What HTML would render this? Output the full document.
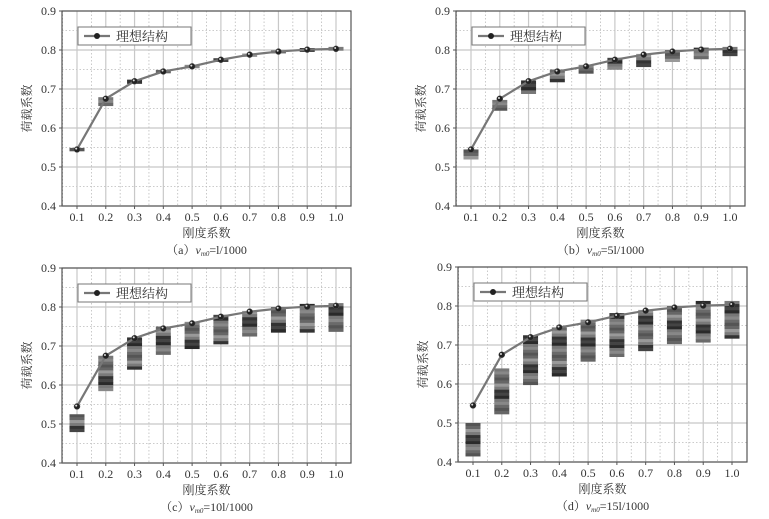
<!DOCTYPE html>
<html><head><meta charset="utf-8"><style>
body{margin:0;background:#fff}
svg{display:block;font-family:"Liberation Serif","Noto Serif CJK SC",serif}
</style></head><body>
<svg id="c" width="769" height="519"></svg>
<script>
const categories=[0.1,0.2,0.3,0.4,0.5,0.6,0.7,0.8,0.9,1.0];
const xTickLabels=["0.1","0.2","0.3","0.4","0.5","0.6","0.7","0.8","0.9","1.0"];
const yTickLabels=["0.4","0.5","0.6","0.7","0.8","0.9"];
const idealValues=[0.545,0.675,0.72,0.745,0.758,0.775,0.788,0.796,0.801,0.803];
const lowA=[0.541,0.657,0.714,0.741,0.754,0.770,0.783,0.792,0.796,0.799];
const highA=[0.549,0.679,0.724,0.749,0.762,0.779,0.791,0.799,0.805,0.808];
const lowB=[0.520,0.645,0.688,0.718,0.740,0.750,0.757,0.770,0.777,0.785];
const highB=[0.545,0.672,0.722,0.750,0.762,0.780,0.790,0.800,0.806,0.808];
const lowC=[0.480,0.585,0.640,0.678,0.693,0.705,0.725,0.735,0.735,0.737];
const highC=[0.525,0.675,0.722,0.750,0.762,0.780,0.790,0.800,0.808,0.810];
const lowD=[0.415,0.523,0.598,0.620,0.658,0.670,0.685,0.703,0.707,0.717];
const highD=[0.500,0.640,0.725,0.745,0.765,0.782,0.790,0.800,0.813,0.813];
const panels=[
 {id:"a",left:62,top:11,lo:lowA,hi:highA,cap:["（a）","","=l/1000"]},
 {id:"b",left:456,top:11,lo:lowB,hi:highB,cap:["（b）","","=5l/1000"]},
 {id:"c",left:62,top:268,lo:lowC,hi:highC,cap:["（c）","","=10l/1000"]},
 {id:"d",left:458,top:267,lo:lowD,hi:highD,cap:["（d）","","=15l/1000"]}];
const NS="http://www.w3.org/2000/svg";
const svg=document.getElementById("c");
function mk(t,a,p){const e=document.createElementNS(NS,t);for(const k in a)e.setAttribute(k,a[k]);(p||svg).appendChild(e);return e;}
const grays=["#555","#777","#333","#666","#888","#444","#999","#6a6a6a","#2a2a2a","#7a7a7a"];
panels.forEach(P=>{
 const W=289,H=195;
 const g=mk("g",{});
 
 
 const x=v=>P.left+15+(v-0.1)/0.9*259;
 const y=v=>P.top+H-(v-0.4)/0.5*H;
 for(let i=0;i<=10;i++){const v=0.4+i*0.05;if(i%2)mk("line",{x1:P.left,x2:P.left+W,y1:y(v),y2:y(v),stroke:"#bbb","stroke-dasharray":"1.5,2","stroke-width":0.8},g);else mk("line",{x1:P.left,x2:P.left+W,y1:y(v),y2:y(v),stroke:"#c8c8c8","stroke-width":1.2},g);}
 categories.forEach((c,i)=>{mk("line",{x1:x(c),x2:x(c),y1:P.top,y2:P.top+H,stroke:"#c8c8c8","stroke-width":1.2},g);
   const m=c+0.05;if(i<9)mk("line",{x1:x(m),x2:x(m),y1:P.top,y2:P.top+H,stroke:"#bbb","stroke-dasharray":"1.5,2","stroke-width":0.8},g);});
 mk("line",{x1:x(0.05),x2:x(0.05),y1:P.top,y2:P.top+H,stroke:"#bbb","stroke-dasharray":"1.5,2","stroke-width":0.8},g);
 categories.forEach((c,i)=>{
  const y1=y(P.hi[i]),y2=y(P.lo[i]),h=y2-y1,n=Math.max(1,Math.round(h/3));
  const bg=mk("g",{},g);
  
  
  for(let k=0;k<n;k++){mk("rect",{x:x(c)-7.5,y:y1+k*h/n,width:15,height:h/n+0.3,fill:grays[(k*3+i)%grays.length]},bg);}
 });
 let d="";categories.forEach((c,i)=>{const px=x(c),py=y(idealValues[i]);if(!i)d="M"+px+","+py;else{const pc=categories[i-1],pv=idealValues[i-1];const mx=(x(pc)+px)/2;d+=" Q"+x(pc)+","+y(pv)+" "+mx+","+((y(pv)+py)/2)+" T"+px+","+py;}});
 const ln=mk("path",{d:d,fill:"none",stroke:"#777","stroke-width":2.2},g);
 
 
 categories.forEach((c,i)=>{const p=mk("circle",{cx:x(c),cy:y(idealValues[i]),r:3,fill:"#222",stroke:"#555","stroke-width":0.5},g);
   
   mk("circle",{cx:x(c)-0.8,cy:y(idealValues[i])-0.8,r:1,fill:"#ddd"},g);});
 mk("rect",{x:P.left,y:P.top,width:W,height:H,fill:"none",stroke:"#555","stroke-width":1.2},g);
 yTickLabels.forEach(t=>{const v=+t;mk("line",{x1:P.left-3,x2:P.left,y1:y(v),y2:y(v),stroke:"#555"},g);
  const tx=mk("text",{x:P.left-6,y:y(v)+4,"text-anchor":"end","font-size":12,fill:"#333"},g);tx.textContent=t;});
 categories.forEach((c,i)=>{mk("line",{x1:x(c),x2:x(c),y1:P.top+H,y2:P.top+H+3,stroke:"#555"},g);
  const tx=mk("text",{x:x(c),y:P.top+H+15,"text-anchor":"middle","font-size":12,fill:"#333"},g);tx.textContent=xTickLabels[i];});
 const xt=mk("text",{x:P.left+W/2,y:P.top+H+31,"text-anchor":"middle","font-size":12,fill:"#333"},g);xt.textContent="刚度系数";
 
 const yt=mk("text",{x:0,y:0,transform:"translate("+(P.left-31)+","+(P.top+H/2)+") rotate(-90)","text-anchor":"middle","font-size":12,fill:"#333"},g);yt.textContent="荷载系数";
 
 const cp=mk("text",{x:P.left+W/2,y:P.top+H+48,"text-anchor":"middle","font-size":12,fill:"#333"},g);
 
 const s1=mk("tspan",{},cp);s1.textContent=P.cap[0];
 const s2=mk("tspan",{"font-style":"italic"},cp);s2.textContent="v";
 const s3=mk("tspan",{"font-style":"italic","font-size":7,dy:2},cp);s3.textContent="m0";
 const s4=mk("tspan",{dy:-2},cp);s4.textContent=P.cap[2];
 const lg=mk("g",{},g);
 mk("rect",{x:P.left+16,y:P.top+16,width:113,height:18,fill:"#fff",stroke:"#777"},lg);
 mk("line",{x1:P.left+22,x2:P.left+48,y1:P.top+25,y2:P.top+25,stroke:"#777","stroke-width":2.2},lg);
 mk("circle",{cx:P.left+35,cy:P.top+25,r:3,fill:"#222"},lg);
 const lt=mk("text",{x:P.left+54,y:P.top+30,"font-size":13,fill:"#333"},lg);lt.textContent="理想结构";
});
</script>
</body></html>
